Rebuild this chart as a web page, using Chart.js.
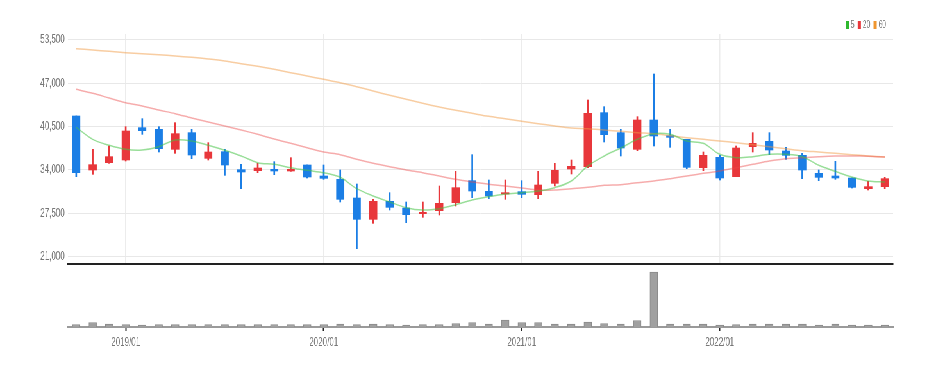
<!DOCTYPE html>
<html>
<head>
<meta charset="utf-8">
<script src="https://cdn.jsdelivr.net/npm/chart.js@4.4.1/dist/chart.umd.min.js"></script>
<style>
  html, body { margin: 0; padding: 0; background: #fff; overflow: hidden; }
  /* the reference is horizontally squeezed, so draw wide and squeeze */
  #wrap { width: 1460px; height: 367px; transform: scaleX(0.6411); transform-origin: 0 0; }
  .box { position: relative; width: 1460px; }
</style>
</head>
<body>
<div id="wrap">
  <div class="box" style="height:266px"><canvas id="price"></canvas></div>
  <div class="box" style="height:101px"><canvas id="volume"></canvas></div>
</div>
<script>
// monthly candles, 2018/10 .. 2022/11
var months = ['2018/10','2018/11','2018/12',
  '2019/01','2019/02','2019/03','2019/04','2019/05','2019/06','2019/07','2019/08','2019/09','2019/10','2019/11','2019/12',
  '2020/01','2020/02','2020/03','2020/04','2020/05','2020/06','2020/07','2020/08','2020/09','2020/10','2020/11','2020/12',
  '2021/01','2021/02','2021/03','2021/04','2021/05','2021/06','2021/07','2021/08','2021/09','2021/10','2021/11','2021/12',
  '2022/01','2022/02','2022/03','2022/04','2022/05','2022/06','2022/07','2022/08','2022/09','2022/10','2022/11'];

var opens  = [42100,34000,35100,35500,40350,40100,37100,39600,35750,36750,34050,33900,34100,33850,34750,33100,32600,29800,26600,29300,
              28300,27450,27900,29100,32400,30800,30400,30750,30300,32000,34150,34500,42600,39600,37100,41500,39150,38600,34350,35900,
              33000,37500,38300,36850,36200,33500,33100,32800,31200,31500];
var highs  = [42100,37100,37600,40500,41700,40500,41100,40100,38100,37100,34850,35000,35250,35850,34750,34750,34000,31900,29600,30600,
              29200,29200,31600,33800,36300,32500,32500,32400,33800,35000,35500,44500,43500,40100,42000,48400,40100,38600,36700,36200,
              37600,39600,39600,37400,36500,34000,35300,32800,32300,32900];
var lows   = [33000,33350,35000,35350,39350,36700,36500,35700,35500,33200,31200,33600,33300,33800,32800,32600,29200,22200,26000,28000,
              26100,26900,27250,28600,29850,29700,29600,29850,29700,31600,33400,34350,38200,36100,36900,37600,37400,34200,33900,32500,
              33000,36700,36300,35600,32700,32400,32600,31300,31000,31200];
var closes = [33600,34800,36000,39850,39900,37200,39450,36250,36700,34750,33700,34300,33850,34100,32950,32750,29600,26600,29300,28400,
              27300,27650,29000,31350,30850,30100,30600,30350,31750,33950,34550,42500,39300,37300,41500,39100,38900,34400,36200,32800,
              37300,38000,37000,36200,34000,32900,32800,31400,31500,32700];

var ma5  = [40400,38600,37700,37100,37000,37500,38500,38350,37700,36950,36100,35100,34850,34350,33950,33600,32900,31200,30100,29200,
            28350,28000,28200,28800,29500,30000,30400,30600,30850,31350,32350,34600,36100,37300,38600,39450,39350,38350,38000,36350,
            35850,36000,36350,36350,36000,34700,33800,32950,32350,32200];
var ma20 = [46100,45500,44800,44100,43600,43000,42450,41800,41200,40600,40000,39350,38650,38000,37350,36700,36300,35600,35000,34500,
            34000,33600,33100,32600,32200,31850,31600,31300,31000,31000,31200,31400,31700,31800,32100,32350,32700,33100,33500,33850,
            34350,34850,35350,35700,35850,36000,36100,36100,36050,35950];
var ma60 = [52200,52000,51800,51600,51450,51300,51100,50900,50650,50350,49950,49550,49100,48600,48100,47600,47100,46500,45850,45200,
            44600,44000,43450,42950,42500,42050,41700,41300,40950,40600,40300,40200,40000,39800,39600,39450,39150,38850,38600,38350,
            38100,37800,37500,37200,36900,36700,36500,36300,36100,35950];

var volumes = [100000,180000,120000,100000,80000,100000,100000,100000,100000,100000,100000,100000,100000,100000,100000,100000,
               120000,100000,120000,100000,80000,100000,100000,140000,180000,120000,280000,180000,180000,120000,120000,200000,
               140000,120000,260000,2200000,120000,120000,120000,80000,100000,120000,120000,120000,120000,80000,120000,80000,80000,80000];

var yTicks = [21000, 27500, 34000, 40500, 47000, 53500];

var UP = '#e8373b', DOWN = '#1b7ee5';
var FONT = "'Liberation Sans', Arial, sans-serif";

Chart.defaults.font.family = FONT;
Chart.defaults.font.size = 12.5;
Chart.defaults.animation = false;

function isYear(i) { return months[i] && months[i].slice(5) === '01'; }
var candleColors = closes.map(function (c, i) { return c >= opens[i] ? UP : DOWN; });

// small legend in the top right corner, only for the moving averages
var maLegend = {
  id: 'maLegend',
  afterDraw: function (chart) {
    var ctx = chart.ctx;
    var x = 1319, y = 25;
    ctx.save();
    ctx.font = '10.5px ' + FONT;
    ctx.textBaseline = 'middle';
    chart.data.datasets.forEach(function (ds) {
      if (!ds.legendColor) return;
      ctx.fillStyle = ds.legendColor;
      ctx.fillRect(x, y - 4, 5, 8);
      x += 8;
      ctx.fillStyle = '#777';
      ctx.fillText(ds.label, x, y);
      x += ctx.measureText(ds.label).width + 5;
    });
    ctx.restore();
  }
};

new Chart(document.getElementById('price'), {
  type: 'bar',
  data: {
    labels: months,
    datasets: [
      { type: 'line', label: '5', data: ma5, borderColor: 'rgba(70,195,70,0.55)', legendColor: '#2eb82e',
        borderWidth: 1.5, pointRadius: 0, tension: 0.35, order: 0 },
      { type: 'line', label: '20', data: ma20, borderColor: 'rgba(236,70,70,0.45)', legendColor: '#e8373b',
        borderWidth: 1.5, pointRadius: 0, tension: 0.35, order: 0 },
      { type: 'line', label: '60', data: ma60, borderColor: 'rgba(242,155,70,0.5)', legendColor: '#f0962e',
        borderWidth: 1.5, pointRadius: 0, tension: 0.35, order: 0 },
      { label: 'body', data: opens.map(function (o, i) { return [o, closes[i]]; }),
        backgroundColor: candleColors, borderWidth: 0, borderSkipped: false,
        barThickness: 12, grouped: false, order: 1 },
      { label: 'wick', data: lows.map(function (l, i) { return [l, highs[i]]; }),
        backgroundColor: candleColors, borderWidth: 0, borderSkipped: false,
        barThickness: 2, grouped: false, order: 2 }
    ]
  },
  options: {
    responsive: true,
    maintainAspectRatio: false,
    layout: { padding: { top: 34, right: 67, bottom: 0, left: 0 } },
    plugins: { legend: { display: false }, tooltip: { enabled: false } },
    scales: {
      x: {
        offset: true,
        ticks: { display: false, autoSkip: false },
        grid: {
          offset: false, drawTicks: false, lineWidth: 1.5,
          color: function (c) { return isYear(c.index) ? '#ececec' : 'rgba(0,0,0,0)'; }
        },
        border: { display: true, color: '#222', width: 2 },
        afterFit: function (s) { s.height = 2; s.paddingLeft = 0; s.paddingRight = 0; }
      },
      y: {
        min: 19900,
        max: 54400,
        afterBuildTicks: function (s) { s.ticks = yTicks.map(function (v) { return { value: v }; }); },
        afterFit: function (s) { s.width = 106; s.paddingTop = 0; s.paddingBottom = 0; },
        grid: { color: '#e8e8e8', drawTicks: false },
        border: { display: false },
        ticks: { padding: 5, color: '#777', callback: function (v) { return v.toLocaleString('en-US'); } }
      }
    }
  },
  plugins: [maLegend]
});

new Chart(document.getElementById('volume'), {
  type: 'bar',
  data: {
    labels: months,
    datasets: [{ label: 'volume', data: volumes, backgroundColor: '#a0a0a0', borderColor: '#8a8a8a',
                 borderWidth: 1, barThickness: 12 }]
  },
  options: {
    responsive: true,
    maintainAspectRatio: false,
    layout: { padding: { top: 2, right: 67, bottom: 0, left: 106 } },
    plugins: { legend: { display: false }, tooltip: { enabled: false } },
    scales: {
      x: {
        offset: true,
        grid: {
          offset: false, drawOnChartArea: false, tickLength: 4, tickWidth: 2,
          color: function (c) { return isYear(c.index) ? '#222' : 'rgba(0,0,0,0)'; }
        },
        border: { display: true, color: '#9a9a9a', width: 2 },
        ticks: {
          autoSkip: false, maxRotation: 0, padding: 4, color: '#777',
          callback: function (v, i) { return isYear(i) ? months[i] : ''; }
        },
        afterFit: function (s) { s.height = 40; s.paddingLeft = 0; s.paddingRight = 0; }
      },
      y: { display: false, min: 0, max: 2360000 }
    }
  }
});
</script>
</body>
</html>
